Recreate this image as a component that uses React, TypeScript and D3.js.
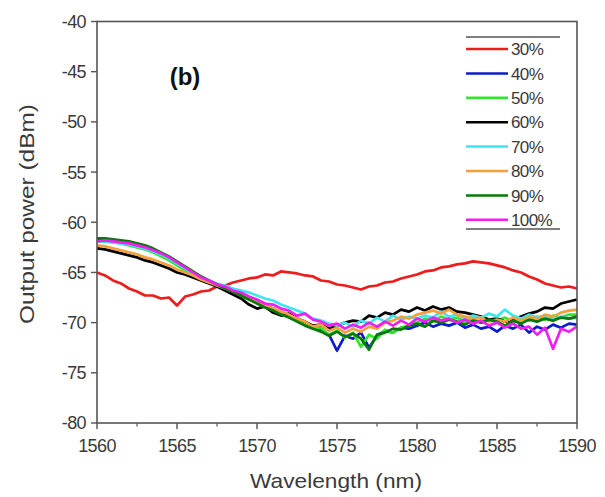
import React from "react";
import * as d3 from "d3";

const wavelengths: number[] = d3.range(0, 61).map((i) => 1560 + i * 0.5);

const labels = ["30%", "40%", "50%", "60%", "70%", "80%", "90%", "100%"];
const colors = ["#ee1c1c", "#0a1ccc", "#2ee82e", "#000000", "#3ee6f0", "#f2a03c", "#087808", "#f01ef0"];

const s30 = [
  -65.0, -65.3, -65.8, -66.1, -66.6, -66.9, -67.3, -67.3, -67.6, -67.5,
  -68.3, -67.4, -67.2, -66.9, -66.8, -66.4, -66.3, -66.0, -65.8, -65.6,
  -65.5, -65.2, -65.3, -64.9, -65.0, -65.1, -65.3, -65.4, -65.8, -65.9,
  -66.2, -66.3, -66.5, -66.7, -66.4, -66.3, -66.0, -65.9, -65.6, -65.4,
  -65.2, -64.9, -64.8, -64.5, -64.4, -64.2, -64.1, -63.9, -64.0, -64.1,
  -64.3, -64.5, -64.8, -65.0, -65.4, -65.7, -66.1, -66.3, -66.5, -66.4,
  -66.6,
];
const s40 = [
  -61.8, -61.8, -61.9, -62.0, -62.1, -62.3, -62.5, -62.8, -63.2, -63.6,
  -64.1, -64.6, -65.1, -65.5, -65.9, -66.3, -66.6, -66.9, -67.2, -67.6,
  -67.9, -68.3, -68.6, -69.0, -69.3, -69.7, -70.0, -70.4, -70.8, -71.2,
  -72.8, -71.3, -71.6, -71.0, -72.5, -71.3, -70.8, -71.0, -70.5, -70.6,
  -70.3, -70.0, -70.4, -70.1, -70.3, -70.0, -70.5, -70.2, -70.6, -70.4,
  -70.9, -70.3, -70.6, -70.2, -71.0, -70.4, -70.7, -70.2, -70.5, -70.1,
  -70.2,
];
const s50 = [
  -61.9, -61.9, -62.0, -62.1, -62.3, -62.5, -62.7, -63.0, -63.4, -63.8,
  -64.3, -64.8, -65.2, -65.6, -66.0, -66.3, -66.6, -67.0, -67.4, -67.7,
  -68.0, -68.4, -68.7, -69.0, -69.4, -69.8, -70.1, -70.6, -70.5, -71.2,
  -70.8, -71.5, -71.0, -72.4, -71.2, -71.6, -70.7, -71.0, -70.5, -70.3,
  -70.0, -69.6, -69.9, -69.4, -69.7, -69.5, -69.9, -69.6, -70.0, -69.7,
  -69.8, -69.5, -69.9, -69.6, -69.8, -69.4, -69.7, -69.3, -69.5, -69.2,
  -69.2,
];
const s60 = [
  -62.6, -62.7, -62.9, -63.1, -63.3, -63.5, -63.8, -64.0, -64.3, -64.6,
  -65.0, -65.2, -65.5, -65.8, -66.1, -66.4, -66.8, -67.2, -67.6, -68.2,
  -68.6, -68.4, -69.0, -69.3, -69.1, -69.6, -69.9, -70.3, -70.2, -70.6,
  -70.3, -70.0, -69.8, -69.9, -69.3, -69.5, -69.0, -69.2, -68.7, -68.9,
  -68.5, -68.8, -68.4, -68.7, -68.5, -68.9, -69.0, -69.2, -69.4, -69.7,
  -69.6, -69.9, -69.7, -69.4, -69.1, -68.9, -68.5, -68.6, -68.1, -67.9,
  -67.7,
];
const s70 = [
  -61.9, -61.9, -62.0, -62.1, -62.2, -62.4, -62.6, -62.9, -63.2, -63.6,
  -64.1, -64.6, -65.0, -65.4, -65.8, -66.1, -66.3, -66.6, -66.8, -67.0,
  -67.3, -67.6, -67.8, -68.2, -68.5, -68.8, -69.1, -69.6, -69.8, -70.1,
  -70.3, -70.0, -70.4, -69.8, -70.1, -69.5, -69.9, -69.3, -69.7, -69.4,
  -69.6, -69.3, -69.5, -68.9, -69.4, -69.2, -69.6, -69.3, -69.5, -69.1,
  -69.4, -68.7, -69.3, -69.6, -69.2, -69.5, -69.3, -69.7, -69.4, -69.6,
  -69.5,
];
const s80 = [
  -62.3, -62.4, -62.6, -62.8, -63.0, -63.2, -63.5, -63.7, -64.0, -64.3,
  -64.7, -65.0, -65.3, -65.7, -66.0, -66.3, -66.6, -66.9, -67.3, -67.6,
  -68.0, -68.3, -68.6, -68.9, -69.2, -69.6, -69.9, -70.4, -70.2, -70.8,
  -70.5, -71.0, -70.6, -70.9, -70.4, -70.6, -70.0, -69.8, -69.4, -69.6,
  -69.2, -69.0, -68.8, -69.1, -68.7, -69.2, -69.4, -69.6, -69.5, -69.9,
  -69.7, -69.9, -69.5, -69.8, -69.4, -69.6, -69.2, -69.4, -69.0, -68.8,
  -68.7,
];
const s90 = [
  -61.6, -61.6, -61.7, -61.8, -61.9, -62.1, -62.3, -62.6, -63.0, -63.4,
  -63.9, -64.4, -64.9, -65.4, -65.8, -66.2, -66.6, -66.9, -67.3, -67.7,
  -68.1, -68.5, -68.8, -69.2, -69.5, -69.9, -70.3, -70.6, -70.9, -71.3,
  -70.9, -71.4, -71.1, -71.6, -72.7, -71.2, -71.0, -70.6, -70.7, -70.3,
  -70.1, -70.4, -69.8, -70.0, -69.7, -69.9, -70.2, -69.8, -70.0, -69.7,
  -69.9, -70.3, -69.8, -70.1, -69.7, -69.9, -69.6, -69.8, -69.5, -69.6,
  -69.4,
];
const s100 = [
  -61.9, -61.8, -61.9, -62.0, -62.1, -62.3, -62.5, -62.8, -63.1, -63.5,
  -64.0, -64.5, -65.0, -65.5, -65.8, -66.2, -66.4, -66.8, -67.0, -67.4,
  -67.7, -68.1, -68.2, -68.6, -68.8, -69.3, -69.1, -69.7, -69.9, -70.3,
  -70.1, -70.6, -70.2, -70.5, -70.0, -70.4, -69.9, -70.3, -69.8, -70.2,
  -69.6, -69.9, -69.5, -69.8, -69.6, -70.0, -69.7, -70.1, -69.8, -70.3,
  -70.0, -70.5, -70.1, -70.6, -70.4, -71.2, -70.5, -72.6, -70.6, -70.9,
  -70.4,
];

const seriesValues = [s30, s40, s50, s60, s70, s80, s90, s100];

const xTicks = [1560, 1565, 1570, 1575, 1580, 1585, 1590];
const xMinorTicks = [1562.5, 1567.5, 1572.5, 1577.5, 1582.5, 1587.5];
const yTicks = [-40, -45, -50, -55, -60, -65, -70, -75, -80];

const W = 605;
const H = 497;
const left = 97;
const right = 577;
const top = 21.5;
const bottom = 423;

export default function App() {
  const x = d3.scaleLinear().domain([1560, 1590]).range([left, right]);
  const y = d3.scaleLinear().domain([-80, -40]).range([bottom, top]);
  const line = d3
    .line<number>()
    .x((_, i) => x(wavelengths[i]))
    .y((d) => y(d));

  const axisColor = "#555";
  const textColor = "#3a3a3a";
  const font = "'Liberation Sans', Arial, sans-serif";

  const legendTop = 37;
  const legendBottom = 229;
  const legendX0 = 466;
  const legendX1 = 560;
  const entryY = (i: number) => 49 + i * 24.4;

  return (
    <svg
      width={W}
      height={H}
      style={{ position: "absolute", left: 0, top: 0, background: "#fff" }}
      fontFamily={font}
    >
      <rect x={0} y={0} width={W} height={H} fill="#fff" />
      <g>
        {seriesValues.map((vals, k) => (
          <path
            key={labels[k]}
            d={line(vals) || ""}
            fill="none"
            stroke={colors[k]}
            strokeWidth={2.7}
            strokeLinejoin="round"
          />
        ))}
      </g>
      {/* frame */}
      <rect
        x={left}
        y={top}
        width={right - left}
        height={bottom - top}
        fill="none"
        stroke={axisColor}
        strokeWidth={1.6}
      />
      {/* x ticks */}
      {xTicks.map((t) => (
        <g key={"xt" + t}>
          <line x1={x(t)} x2={x(t)} y1={bottom} y2={bottom + 6} stroke={axisColor} strokeWidth={1.4} />
          <text
            x={x(t)}
            y={452}
            textAnchor="middle"
            fontSize={18}
            fill={textColor}
            letterSpacing={-0.6}
          >
            {t}
          </text>
        </g>
      ))}
      {xMinorTicks.map((t) => (
        <line key={"xm" + t} x1={x(t)} x2={x(t)} y1={bottom} y2={bottom + 3.5} stroke={axisColor} strokeWidth={1.2} />
      ))}
      {/* y ticks */}
      {yTicks.map((t) => (
        <g key={"yt" + t}>
          <line x1={left - 6} x2={left} y1={y(t)} y2={y(t)} stroke={axisColor} strokeWidth={1.4} />
          <text
            x={86}
            y={y(t)}
            dy="0.36em"
            textAnchor="end"
            fontSize={18}
            fill={textColor}
            letterSpacing={-0.6}
          >
            {t}
          </text>
        </g>
      ))}
      {/* axis titles */}
      <text
        x={336}
        y={488}
        textAnchor="middle"
        fontSize={21}
        fill={textColor}
        textLength={172}
        lengthAdjust="spacingAndGlyphs"
      >
        Wavelength (nm)
      </text>
      <text
        transform={`translate(34,214) rotate(-90)`}
        textAnchor="middle"
        fontSize={21}
        fill={textColor}
        textLength={220}
        lengthAdjust="spacingAndGlyphs"
      >
        Output power (dBm)
      </text>
      {/* panel label */}
      <text x={185} y={85} textAnchor="middle" fontSize={24} fontWeight="bold" fill="#111">
        (b)
      </text>
      {/* legend */}
      <line x1={legendX0} x2={legendX1} y1={legendTop} y2={legendTop} stroke={axisColor} strokeWidth={1.3} />
      <line x1={legendX0} x2={legendX1} y1={legendBottom} y2={legendBottom} stroke={axisColor} strokeWidth={1.3} />
      {labels.map((lab, i) => (
        <g key={"lg" + lab}>
          <line
            x1={legendX0}
            x2={508}
            y1={entryY(i)}
            y2={entryY(i)}
            stroke={colors[i]}
            strokeWidth={2.5}
          />
          <text
            x={511}
            y={entryY(i)}
            dy="0.36em"
            fontSize={17}
            fill={textColor}
            letterSpacing={-0.6}
          >
            {lab}
          </text>
        </g>
      ))}
    </svg>
  );
}
